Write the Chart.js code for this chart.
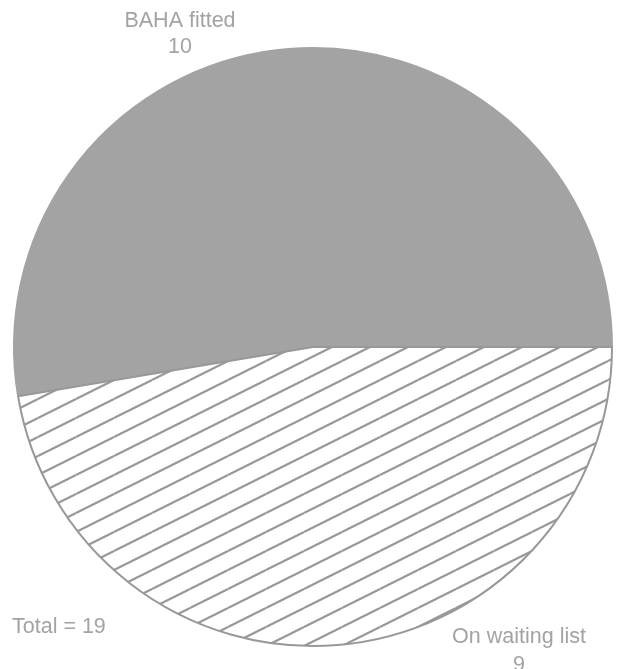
<!DOCTYPE html>
<html>
<head>
<meta charset="utf-8">
<script src="https://cdn.jsdelivr.net/npm/chart.js@4"></script>
<style>
  html, body { margin: 0; padding: 0; background: #fff; }
  #wrap { width: 618px; height: 669px; position: relative; }
</style>
</head>
<body>
<div id="wrap"><canvas id="pieChart"></canvas></div>
<script>
const categories = ["BAHA fitted", "On waiting list"];
const counts = [10, 9];
const total = counts.reduce((a, b) => a + b, 0);

const grey = "#a3a3a3";

// diagonal hatch for the waiting-list slice
function makeHatch() {
  const step = 19;
  const c = document.createElement("canvas");
  c.width = step * 2;
  c.height = step;
  const g = c.getContext("2d");
  g.fillStyle = "#fff";
  g.fillRect(0, 0, c.width, c.height);
  g.strokeStyle = "#989898";
  g.lineWidth = 2.2;
  for (let k = -1; k <= 1; k++) {
    g.beginPath();
    g.moveTo(0, step + step * k);
    g.lineTo(step * 2, step * k);
    g.stroke();
  }
  return g.createPattern(c, "repeat");
}

const labelPlugin = {
  id: "sliceLabels",
  afterDraw(chart) {
    const ctx = chart.ctx;
    ctx.save();
    ctx.fillStyle = "#a3a3a3";
    ctx.font = "21.5px 'Liberation Sans', Arial, sans-serif";
    ctx.textBaseline = "alphabetic";
    ctx.textAlign = "center";
    ctx.fillText(categories[0], 180, 27);
    ctx.fillText(String(counts[0]), 180, 53);
    ctx.fillText(categories[1], 519, 643);
    ctx.fillText(String(counts[1]), 519, 671);
    ctx.textAlign = "left";
    ctx.fillText("Total = " + total, 12, 633);
    ctx.restore();
  },
};

const ctx = document.getElementById("pieChart").getContext("2d");

// first slice starts just below 9 o'clock and runs clockwise over the top
const startDeg = (360 * counts[1]) / total;

new Chart(ctx, {
  type: "pie",
  data: {
    labels: categories,
    datasets: [
      {
        data: counts,
        backgroundColor: [grey, makeHatch()],
        borderColor: [grey, "#989898"],
        borderWidth: 2,
      },
    ],
  },
  options: {
    responsive: true,
    maintainAspectRatio: false,
    animation: false,
    rotation: startDeg + 90,
    layout: { padding: { top: 47, bottom: 22, left: 13, right: 5 } },
    plugins: {
      legend: { display: false },
      tooltip: { enabled: false },
    },
  },
  plugins: [labelPlugin],
});
</script>
</body>
</html>
